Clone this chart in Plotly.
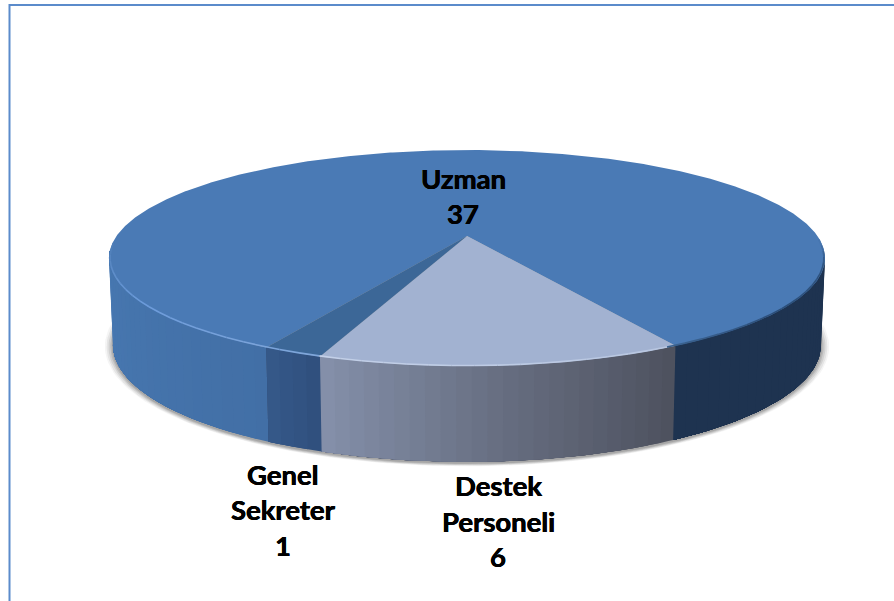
import numpy as np
import plotly.graph_objects as go

# --- data ---
categories = ["Uzman", "Destek Personeli", "Genel Sekreter"]
values = [37, 6, 1]
label_lines = [["Uzman", "37"], ["Destek", "Personeli", "6"], ["Genel", "Sekreter", "1"]]

# --- styles ---
top_colors = ["#4A7AB5", "#A2B2D1", "#3C6797"]
side_stops = [
    # colours running clockwise over the slice's visible front wall (theta degrees, colour)
    [(70, "#1E3350"), (151, "#1E3350"), (208, "#426FA6"), (285, "#4A7CB6")],
    [(151, "#4D515E"), (175, "#666D80"), (200, "#8591AB")],
    [(200, "#2F4F7D"), (208, "#36598A")],
]
start_angle = 208.0
label_anchor = [(463, 178), (498, 485.5), (283, 474)]
line_step = 35.5
font = dict(family="Lato, Carlito, sans-serif", size=27.5, color="#000000",
            shadow="0.35px 0 0 #000, -0.35px 0 0 #000")

TOP = dict(cx=467.0, cy=236.0, a=350.5, b=103.5, k=0.204)
BOT = dict(cx=467.0, cy=321.0, a=346.6, b=112.1, k=0.204)


def project(theta_deg, p, grow=1.0, dy=0.0):
    t = np.radians(theta_deg)
    u, v = np.sin(t) * grow, np.cos(t) * grow
    s = 1.0 / (1.0 + p["k"] * v)
    return p["cx"] + p["a"] * u * s, p["cy"] + dy - p["b"] * v * s


def hexrgb(c):
    return np.array([int(c[i:i + 2], 16) for i in (1, 3, 5)], float)


def mix(stops, th):
    xs = [a for a, _ in stops]
    rgb = np.array([hexrgb(c) for _, c in stops])
    out = [np.interp(th, xs, rgb[:, i]) for i in range(3)]
    return "rgb(%d,%d,%d)" % tuple(round(x) for x in out)


fig = go.Figure()


def poly(x, y, color, lw=0.0, line=None):
    fig.add_trace(go.Scatter(x=list(x), y=list(y), mode="lines", fill="toself", fillcolor=color,
                             line=dict(width=lw, color=line or color), hoverinfo="skip", showlegend=False))


# slice angles, clockwise from the far point of the disc
total = sum(values)
spans = [v / total * 360.0 for v in values]
edges = []
a0 = start_angle
for sp in spans:
    edges.append((a0, a0 + sp))
    a0 += sp

# soft ground shadow
ring = np.linspace(0, 360, 241)
for grow, dy, alpha in [(1.022, 0.5, 0.06), (1.017, 1.0, 0.10), (1.012, 1.2, 0.14), (1.007, 1.5, 0.18), (1.003, 1.5, 0.22)]:
    sx, sy = project(ring, BOT, grow, dy)
    poly(sx, sy, "rgba(90,90,90,%.2f)" % alpha)

# front walls: painted back-to-front so that each strip overlaps the next and leaves no seam
for (th0, th1), stops in zip(edges, side_stops):
    th0n = th0 % 360
    th1n = th1 % 360
    if th1n <= th0n:  # large slice wraps over the back; only its two front ends are visible
        ranges = [(th0n, 262.0), (98.0, th1n)]
    else:
        ranges = [(th0n, th1n)]
    for lo, hi in ranges:
        n = max(2, int((hi - lo) / 2.0))
        grid = np.linspace(lo, hi, n + 1)
        for g0, g1 in zip(grid[:-1], grid[1:]):
            th = np.linspace(g0, hi, max(3, int(hi - g0) + 2))
            tx, ty = project(th, TOP)
            bx, by = project(th[::-1], BOT)
            poly(np.r_[tx, bx], np.r_[ty, by], mix(stops, (g0 + g1) / 2), 0.0)

# top faces
for (th0, th1), color in zip(edges, top_colors):
    th = np.linspace(th0, th1, max(4, int((th1 - th0) * 2)))
    tx, ty = project(th, TOP)
    cx, cy = project(0, TOP, 0.0)
    poly(np.r_[cx, tx, cx], np.r_[cy, ty, cy], color)

# bevel along the rim: light on the left and front, dark on the right
rim_stops = [(92, "#4A7AB5"), (105, "#2F5480"), (130, "#2C4E78"), (151, "#3A618F"), (152, "#B8C6E0"), (200, "#C3D0E8"),
             (201, "#7FA6DA"), (235, "#6C9BDA"), (255, "#5A89C4"), (268, "#4A7AB5")]
rim = np.arange(92, 269, 3.0)
for g0, g1 in zip(rim[:-1], rim[1:]):
    th = np.linspace(g0, g1, 3)
    rx, ry = project(th, TOP, 0.997)
    fig.add_trace(go.Scatter(x=rx, y=ry, mode="lines", line=dict(width=1.6, color=mix(rim_stops, (g0 + g1) / 2)),
                             hoverinfo="skip", showlegend=False))

# labels
annotations = []
for lines, (ax, ay) in zip(label_lines, label_anchor):
    for i, text in enumerate(lines):
        annotations.append(dict(x=ax, y=ay + i * line_step, text="<b>%s</b>" % text,
                                showarrow=False, xref="x", yref="y", font=font,
                                xanchor="center", yanchor="middle"))

fig.update_layout(
    width=894, height=601, margin=dict(l=0, r=0, t=0, b=0),
    paper_bgcolor="#FFFFFF", plot_bgcolor="#FFFFFF", showlegend=False,
    xaxis=dict(range=[0, 894], visible=False, fixedrange=True),
    yaxis=dict(range=[601, 0], visible=False, fixedrange=True),
    annotations=annotations,
    shapes=[dict(type="rect", xref="x", yref="y", x0=9.5, y0=5, x1=920, y1=640,
                 line=dict(color="#5B8BCB", width=2), layer="below")],
)
fig.write_html("out.html", config=dict(displayModeBar=False),
               post_script="document.body.style.margin='0';document.documentElement.style.overflow='hidden';")
